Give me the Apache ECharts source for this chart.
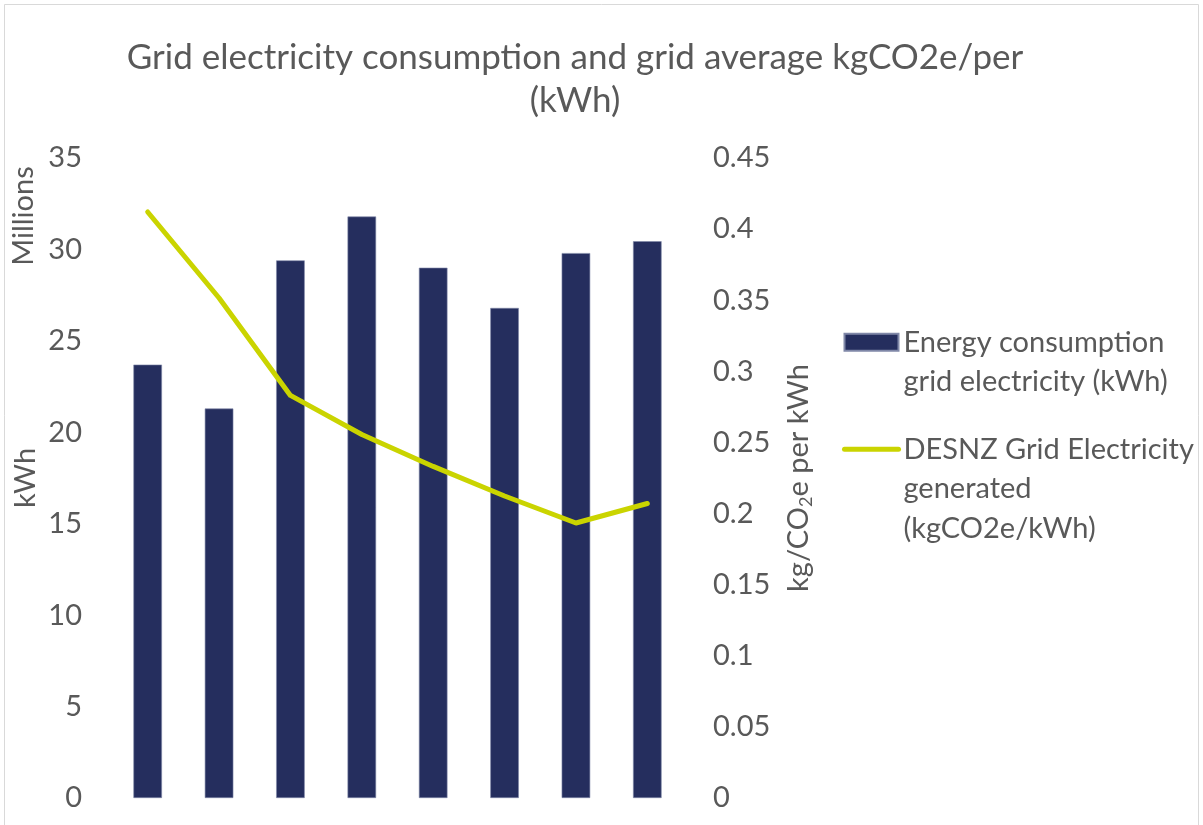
<!DOCTYPE html>
<html>
<head>
<meta charset="utf-8">
<script src="https://cdn.jsdelivr.net/npm/echarts@6/dist/echarts.min.js"></script>
<style>
html,body{margin:0;padding:0;background:#fff;}
#chart{width:1203px;height:825px;}
</style>
</head>
<body>
<div id="chart"></div>
<script>
// ---- data ----
const categories = ['2016', '2017', '2018', '2019', '2020', '2021', '2022', '2023'];
const consumptionMillionsKWh = [23.7, 21.3, 29.4, 31.8, 29.0, 26.8, 29.8, 30.45];
const gridFactorKgCO2e = [0.41205, 0.35156, 0.28307, 0.2556, 0.23314, 0.21233, 0.19338, 0.20707];
const leftTicks = { min: 0, max: 35, interval: 5 };
const rightTicks = { min: 0, max: 0.45, interval: 0.05 };
const titleText = 'Grid electricity consumption and grid average kgCO2e/per\n(kWh)';
const barName = 'Energy consumption\ngrid electricity (kWh)';
const lineName = 'DESNZ Grid Electricity\ngenerated\n(kgCO2e/kWh)';

const FONT = 'Lato';
const GREY = '#595959';
const LH = 39.5;
const FS = 29;

const chart = echarts.init(document.getElementById('chart'), null, { renderer: 'canvas' });
chart.setOption({
  backgroundColor: '#ffffff',
  animation: false,
  title: {
    text: titleText,
    left: 570,
    top: 31,
    textAlign: 'center',
    textStyle: { fontFamily: FONT, fontSize: 35, fontWeight: 'normal', color: GREY, lineHeight: 43 }
  },
  graphic: [
    { type: 'rect', shape: { x: 4.5, y: 4.5, width: 1194, height: 840 }, style: { fill: 'none', stroke: '#D9D9D9', lineWidth: 1 }, silent: true },
    { type: 'text', x: 24, y: 216, rotation: Math.PI / 2,
      style: { text: 'Millions', fontFamily: FONT, fontSize: FS, fill: GREY, align: 'center', verticalAlign: 'middle' } }
  ],
  legend: {
    orient: 'vertical',
    left: 842,
    top: 283,
    padding: 0,
    itemGap: -51,
    itemWidth: 54,
    itemHeight: 17,
    textStyle: { fontFamily: FONT, fontSize: FS, color: GREY, lineHeight: LH },
    formatter: function (name) {
      const n = name.split('\n').length;
      return '\n'.repeat(n - 1) + name;
    },
    data: [
      { name: barName, icon: 'rect' },
      { name: lineName, itemStyle: { opacity: 0 }, lineStyle: { width: 5, cap: 'round' } }
    ]
  },
  grid: { left: 112, right: 520, top: 158, bottom: 27, containLabel: false },
  xAxis: {
    type: 'category',
    data: categories,
    axisLine: { show: false },
    axisTick: { show: false },
    axisLabel: { show: false },
    splitLine: { show: false }
  },
  yAxis: [
    {
      type: 'value',
      min: leftTicks.min, max: leftTicks.max, interval: leftTicks.interval,
      name: 'kWh',
      nameLocation: 'middle',
      nameGap: 70,
      nameTextStyle: { fontFamily: FONT, fontSize: FS, color: GREY, lineHeight: 32 },
      axisLine: { show: false },
      axisTick: { show: false },
      splitLine: { show: false },
      axisLabel: { margin: 30, fontFamily: FONT, fontSize: FS, color: GREY }
    },
    {
      type: 'value',
      position: 'right',
      min: rightTicks.min, max: rightTicks.max, interval: rightTicks.interval,
      name: '{a|kg/CO}{s|2}{a|e per kWh}',
      nameLocation: 'middle',
      nameGap: 100,
      nameTextStyle: {
        fontFamily: FONT, fontSize: FS, color: GREY, lineHeight: 32,
        rich: {
          a: { fontFamily: FONT, fontSize: FS, color: GREY, lineHeight: 32 },
          s: { fontFamily: FONT, fontSize: 18, color: GREY, lineHeight: 20, padding: [14, 0, 0, 0] }
        }
      },
      axisLine: { show: false },
      axisTick: { show: false },
      splitLine: { show: false },
      axisLabel: { margin: 30, fontFamily: FONT, fontSize: FS, color: GREY }
    }
  ],
  series: [
    {
      name: barName,
      type: 'bar',
      yAxisIndex: 0,
      data: consumptionMillionsKWh,
      barWidth: '40%',
      itemStyle: { color: '#252E5E', borderColor: '#8088A8', borderWidth: 0.6 }
    },
    {
      name: lineName,
      type: 'line',
      yAxisIndex: 1,
      data: gridFactorKgCO2e,
      symbol: 'none',
      lineStyle: { color: '#CAD400', width: 5, cap: 'round', join: 'round' },
      itemStyle: { color: '#CAD400' }
    }
  ]
});
</script>
</body>
</html>
